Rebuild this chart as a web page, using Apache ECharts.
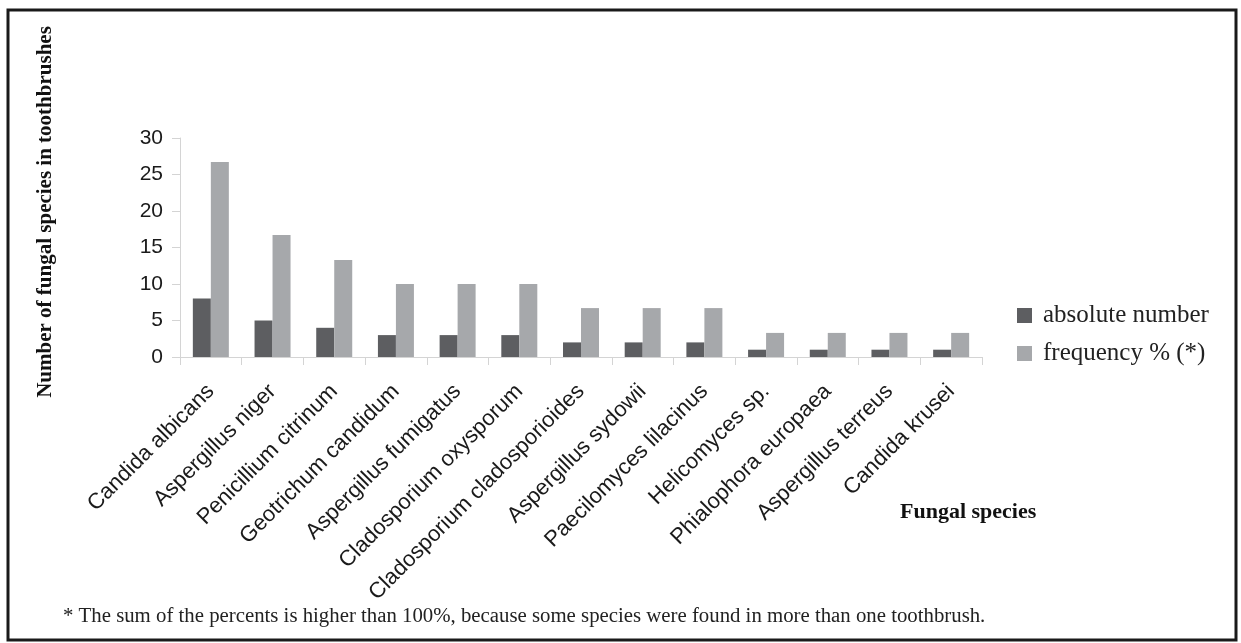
<!DOCTYPE html>
<html>
<head>
<meta charset="utf-8">
<script src="https://cdn.jsdelivr.net/npm/echarts@6/dist/echarts.min.js"></script>
<style>
  html, body { margin: 0; padding: 0; background: #fff; }
  #chart { width: 1241px; height: 643px; }
</style>
</head>
<body>
<div id="chart"></div>
<script>
// Fungal species isolated from toothbrushes
const species = [
  'Candida albicans', 'Aspergillus niger', 'Penicillium citrinum',
  'Geotrichum candidum', 'Aspergillus fumigatus', 'Cladosporium oxysporum',
  'Cladosporium cladosporioides', 'Aspergillus sydowii', 'Paecilomyces lilacinus',
  'Helicomyces sp.', 'Phialophora europaea', 'Aspergillus terreus', 'Candida krusei'
];
const absoluteNumber = [8, 5, 4, 3, 3, 3, 2, 2, 2, 1, 1, 1, 1];
const frequencyPct = [26.7, 16.7, 13.3, 10, 10, 10, 6.7, 6.7, 6.7, 3.3, 3.3, 3.3, 3.3];
const yTicks = { min: 0, max: 30, step: 5 };

const SERIF = '"Liberation Serif", "Times New Roman", serif';
const SANS = '"Liberation Sans", Arial, sans-serif';
const DARK = '#5d5e61';
const LIGHT = '#a6a8ab';
const AXIS = '#d4d4d4';

const chart = echarts.init(document.getElementById('chart'), null, { renderer: 'canvas' });

chart.setOption({
  animation: false,
  backgroundColor: '#ffffff',
  grid: { left: 180, right: 259, top: 138, bottom: 286, containLabel: false },
  legend: {
    orient: 'vertical',
    left: 1012,
    top: 298,
    itemWidth: 15,
    itemHeight: 15,
    itemGap: 13,
    icon: 'rect',
    textStyle: {
      fontFamily: SERIF, fontSize: 25, lineHeight: 25, color: '#222',
      padding: [0, 0, 0, 6]
    },
    data: ['absolute number', 'frequency % (*)']
  },
  xAxis: {
    type: 'category',
    data: species,
    axisLine: { show: true, lineStyle: { color: AXIS, width: 1 } },
    axisTick: { show: true, length: 8, lineStyle: { color: AXIS } },
    axisLabel: {
      rotate: 45,
      interval: 0,
      margin: 31,
      fontFamily: SANS,
      fontSize: 22,
      color: '#1a1a1a'
    }
  },
  yAxis: {
    type: 'value',
    min: yTicks.min,
    max: yTicks.max,
    interval: yTicks.step,
    axisLine: { show: true, lineStyle: { color: AXIS, width: 1 } },
    axisTick: { show: true, length: 8, lineStyle: { color: AXIS } },
    splitLine: { show: false },
    axisLabel: { margin: 17, fontFamily: SANS, fontSize: 21, color: '#1a1a1a' }
  },
  series: [
    {
      name: 'absolute number',
      type: 'bar',
      data: absoluteNumber,
      barWidth: 18,
      barGap: '0%',
      itemStyle: { color: DARK }
    },
    {
      name: 'frequency % (*)',
      type: 'bar',
      data: frequencyPct,
      barWidth: 18,
      barGap: '0%',
      itemStyle: { color: LIGHT }
    }
  ],
  graphic: [
    {
      type: 'rect',
      shape: { x: 8, y: 10, width: 1228, height: 630 },
      style: { fill: 'none', stroke: '#1a1a1a', lineWidth: 3 },
      silent: true
    },
    {
      type: 'text',
      x: 46,
      y: 212,
      rotation: Math.PI / 2,
      style: {
        text: 'Number of fungal species in toothbrushes',
        font: 'bold 21px ' + SERIF,
        fill: '#111',
        align: 'center',
        verticalAlign: 'middle'
      }
    },
    {
      type: 'text',
      x: 900,
      y: 512,
      style: {
        text: 'Fungal species',
        font: 'bold 22px ' + SERIF,
        fill: '#111',
        align: 'left',
        verticalAlign: 'middle'
      }
    },
    {
      type: 'text',
      x: 63,
      y: 617,
      style: {
        text: '* The sum of the percents is higher than 100%, because some species were found in more than one toothbrush.',
        font: '20.8px ' + SERIF,
        fill: '#222',
        align: 'left',
        verticalAlign: 'middle'
      }
    }
  ]
});
</script>
</body>
</html>
